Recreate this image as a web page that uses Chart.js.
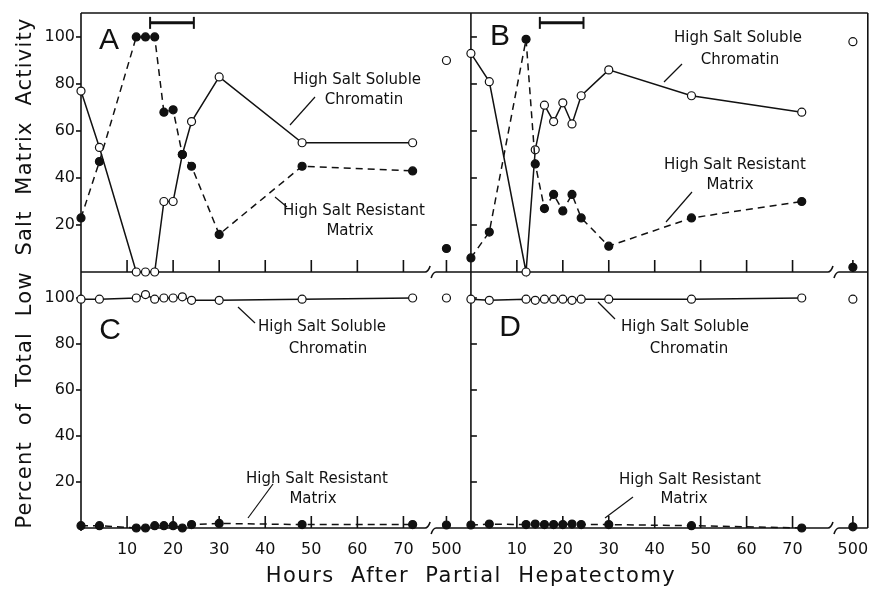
<!DOCTYPE html>
<html>
<head>
<meta charset="utf-8">
<script src="https://cdn.jsdelivr.net/npm/chart.js@4.4.0/dist/chart.umd.min.js"></script>
<style>
  body { margin: 0; background: #fff; }
  canvas { display: block; }
</style>
</head>
<body>
<canvas id="chart" width="873" height="589"></canvas>
<script>
const hours = [0, 4, 12, 14, 16, 18, 20, 22, 24, 30, 48, 72];
const lateHour = [500];
const hourTicks = [10, 20, 30, 40, 50, 60, 70];
const percentTicks = [20, 40, 60, 80, 100];
const periodBar = [15, 24.5]; // bar drawn at the top of A and B

// A / B: percent of total low salt matrix activity
const solubleA = [77, 53, 0, 0, 0, 30, 30, 50, 64, 83, 55, 55];
const resistantA = [23, 47, 100, 100, 100, 68, 69, 50, 45, 16, 45, 43];
const solubleA500 = [90];
const resistantA500 = [10];

const solubleB = [93, 81, 0, 52, 71, 64, 72, 63, 75, 86, 75, 68];
const resistantB = [6, 17, 99, 46, 27, 33, 26, 33, 23, 11, 23, 30];
const solubleB500 = [98];
const resistantB500 = [2];

// C / D
const solubleC = [99.5, 99.5, 100, 101.5, 99.5, 100, 100, 100.5, 99, 99, 99.5, 100];
const resistantC = [1, 1, 0, 0, 1, 1, 1, 0, 1.5, 2, 1.5, 1.5];
const solubleC500 = [100];
const resistantC500 = [1.3];

const solubleD = [99.5, 99, 99.5, 99, 99.5, 99.5, 99.5, 99, 99.5, 99.5, 99.5, 100];
const resistantD = [1.3, 1.7, 1.5, 1.7, 1.5, 1.5, 1.5, 1.7, 1.5, 1.5, 1, 0];
const solubleD500 = [99.5];
const resistantD500 = [0.5];

const ink = '#111';
const tickFont = { family: 'DejaVu Sans', size: 16 };

function series(xs, ys, xAxisID, yAxisID, filled, dashed, line) {
  return {
    data: xs.map((x, i) => ({ x: x, y: ys[i] })),
    xAxisID: xAxisID,
    yAxisID: yAxisID,
    showLine: line,
    borderColor: ink,
    borderWidth: 1.5,
    borderDash: dashed ? [7, 5] : [],
    pointRadius: 4,
    pointBorderWidth: 1.2,
    pointBorderColor: ink,
    pointBackgroundColor: filled ? ink : '#fff',
    clip: false
  };
}

function panel(xMain, xLate, yId, soluble, resistant, soluble500, resistant500) {
  return [
    series(hours, resistant, xMain, yId, true, true, true),
    series(hours, soluble, xMain, yId, false, false, true),
    series(lateHour, resistant500, xLate, yId, true, false, false),
    series(lateHour, soluble500, xLate, yId, false, false, false)
  ];
}

function hourAxis(min, max, weight, ticks) {
  return {
    type: 'linear', position: 'bottom', stack: 'hours', stackWeight: weight,
    min: min, max: max,
    grid: { display: false, drawTicks: false },
    border: { display: false },
    afterBuildTicks: s => { s.ticks = ticks.map(v => ({ value: v })); },
    ticks: { padding: 12, font: tickFont, color: ink, maxRotation: 0, autoSkip: false, callback: v => String(v) },
    afterFit: s => { s.height = 61; s.paddingLeft = 0; s.paddingRight = 0; }
  };
}

function percentAxis(max, weight) {
  return {
    type: 'linear', position: 'left', stack: 'percent', stackWeight: weight,
    min: 0, max: max,
    grid: { display: false, drawTicks: false },
    border: { display: false },
    afterBuildTicks: s => { s.ticks = percentTicks.map(v => ({ value: v })); },
    ticks: { padding: 6, font: tickFont, color: ink, callback: v => String(v) },
    afterFit: s => { s.width = 81; s.paddingTop = 0; s.paddingBottom = 0; }
  };
}

function seg(ctx, x0, y0, x1, y1) {
  ctx.beginPath();
  ctx.moveTo(x0, y0);
  ctx.lineTo(x1, y1);
  ctx.stroke();
}

function brokenAxis(ctx, x0, xb, x1, y) {
  ctx.beginPath();
  ctx.moveTo(x0, y);
  ctx.lineTo(xb - 5, y);
  ctx.quadraticCurveTo(xb - 2, y, xb, y - 6);
  ctx.stroke();
  ctx.beginPath();
  ctx.moveTo(xb + 1, y + 6);
  ctx.quadraticCurveTo(xb + 3, y, xb + 6, y);
  ctx.lineTo(x1, y);
  ctx.stroke();
}

const frame = {
  id: 'frame',
  beforeDatasetsDraw(chart) {
    const { ctx, chartArea: ca, scales: s } = chart;
    const splitX = s.xB.left;
    ctx.save();
    ctx.strokeStyle = ink;
    ctx.lineWidth = 1.6;
    seg(ctx, ca.left, ca.top, ca.right, ca.top);
    seg(ctx, ca.left, ca.top, ca.left, ca.bottom + 3);
    seg(ctx, splitX, ca.top, splitX, ca.bottom);
    seg(ctx, ca.right, ca.top, ca.right, ca.bottom);
    [s.yTop, s.yBot].forEach(y => {
      const base = y.bottom;
      brokenAxis(ctx, s.xA.left, s.xA.right, s.xA500.right, base);
      brokenAxis(ctx, s.xB.left, s.xB.right, s.xB500.right, base);
      // inward hour ticks
      [[s.xA, hourTicks], [s.xA500, lateHour], [s.xB, hourTicks], [s.xB500, lateHour]].forEach(([x, vals]) => {
        vals.forEach(v => {
          const px = x.getPixelForValue(v);
          seg(ctx, px, base, px, base - 12);
        });
      });
      // percent ticks: outward on the left, inward on B / D
      percentTicks.forEach(v => {
        const py = y.getPixelForValue(v);
        seg(ctx, ca.left - 5, py, ca.left, py);
        seg(ctx, splitX, py, splitX + 6, py);
      });
    });
    // period bar
    ctx.lineWidth = 3;
    [s.xA, s.xB].forEach(x => {
      const x0 = x.getPixelForValue(periodBar[0]);
      const x1 = x.getPixelForValue(periodBar[1]);
      const py = s.yTop.getPixelForValue(106);
      seg(ctx, x0, py, x1, py);
      ctx.lineWidth = 2;
      seg(ctx, x0, py - 6, x0, py + 6);
      seg(ctx, x1, py - 6, x1, py + 6);
      ctx.lineWidth = 3;
    });
    ctx.restore();
  }
};

const notes = [
  ['High Salt Soluble', 357, 80], ['Chromatin', 364, 100],
  ['High Salt Resistant', 354, 211], ['Matrix', 350, 231],
  ['High Salt Soluble', 738, 38], ['Chromatin', 740, 60],
  ['High Salt Resistant', 735, 165], ['Matrix', 730, 185],
  ['High Salt Soluble', 322, 327], ['Chromatin', 328, 349],
  ['High Salt Resistant', 317, 479], ['Matrix', 313, 499],
  ['High Salt Soluble', 685, 327], ['Chromatin', 689, 349],
  ['High Salt Resistant', 690, 480], ['Matrix', 684, 499]
];
const leaders = [
  [315, 97, 290, 125], [275, 197, 287, 207],
  [682, 64, 664, 82], [692, 192, 666, 222],
  [238, 307, 255, 323], [273, 484, 248, 518],
  [598, 302, 615, 319], [633, 497, 605, 518]
];
const panelLetters = [['A', 109, 41], ['B', 500, 37], ['C', 110, 331], ['D', 510, 328]];

const labels = {
  id: 'labels',
  afterDraw(chart) {
    const ctx = chart.ctx;
    ctx.save();
    ctx.fillStyle = ink;
    ctx.strokeStyle = ink;
    ctx.lineWidth = 1.2;
    ctx.textAlign = 'center';
    ctx.textBaseline = 'middle';
    ctx.font = '15px "DejaVu Sans"';
    notes.forEach(([t, x, y]) => ctx.fillText(t, x, y));
    leaders.forEach(l => seg(ctx, l[0], l[1], l[2], l[3]));
    ctx.font = '30px "Liberation Sans"';
    panelLetters.forEach(([t, x, y]) => ctx.fillText(t, x, y));
    ctx.font = '21px "DejaVu Sans"';
    ctx.letterSpacing = '1.5px';
    ctx.fillText('Hours  After  Partial  Hepatectomy', 471, 577);
    ctx.letterSpacing = '1.2px';
    ctx.translate(26, 273);
    ctx.rotate(-Math.PI / 2);
    ctx.fillText('Percent  of  Total  Low  Salt  Matrix  Activity', 0, 0);
    ctx.restore();
  }
};

new Chart(document.getElementById('chart'), {
  type: 'scatter',
  data: {
    datasets: [
      ...panel('xA', 'xA500', 'yTop', solubleA, resistantA, solubleA500, resistantA500),
      ...panel('xB', 'xB500', 'yTop', solubleB, resistantB, solubleB500, resistantB500),
      ...panel('xA', 'xA500', 'yBot', solubleC, resistantC, solubleC500, resistantC500),
      ...panel('xB', 'xB500', 'yBot', solubleD, resistantD, solubleD500, resistantD500)
    ]
  },
  options: {
    responsive: false,
    animation: false,
    devicePixelRatio: 1,
    layout: { padding: { top: 13, right: 1, left: 0, bottom: 0 } },
    scales: {
      // left boxes are stacked in reverse order, so the lower panel comes first
      yBot: percentAxis(111.3, 256),
      yTop: percentAxis(110.2, 259),
      xA: hourAxis(0, 75.8, 351, hourTicks),
      xA500: hourAxis(490, 515, 41, lateHour),
      xB: hourAxis(0, 78.8, 364, hourTicks),
      xB500: hourAxis(490, 507.5, 35, lateHour)
    },
    plugins: { legend: { display: false }, tooltip: { enabled: false } }
  },
  plugins: [frame, labels]
});
</script>
</body>
</html>
